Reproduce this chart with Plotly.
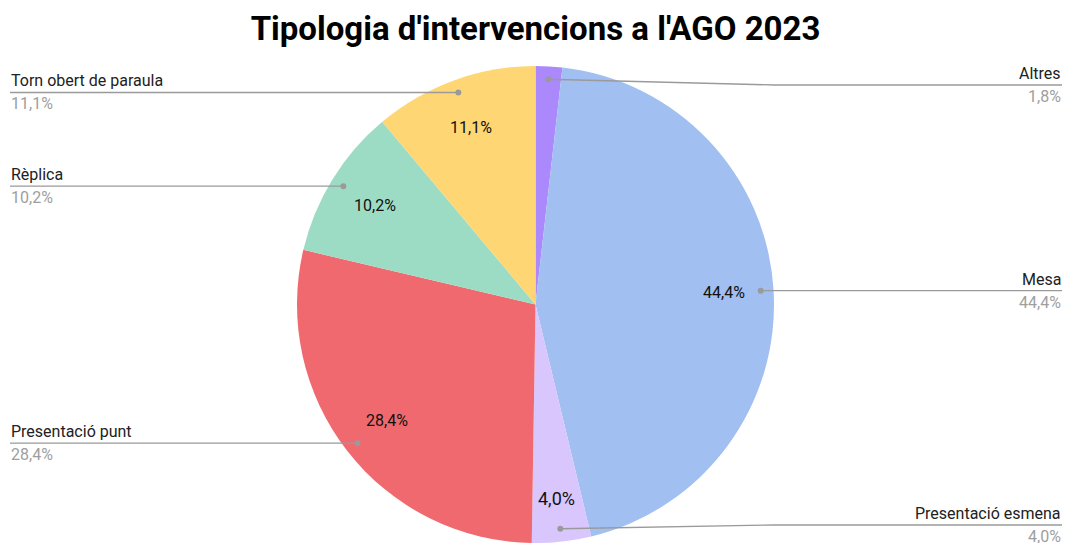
import math
import plotly.graph_objects as go

# ---- data ----
categories = ["Altres", "Mesa", "Presentació esmena", "Presentació punt", "Rèplica", "Torn obert de paraula"]
values = [1.8, 44.4, 4.0, 28.4, 10.2, 11.1]
colors = ["#ab88fc", "#a1bff0", "#d8c6fd", "#f0696e", "#9ddcc4", "#fed674"]
title_text = "Tipologia d'intervencions a l'AGO 2023"

# ---- layout geometry ----
W, H = 1066, 543
M_T, M_B, M_L, M_R = 66, 0, 0, 0
plot_h = H - M_T - M_B
CX = 535.5
CY = M_T + plot_h / 2
R = plot_h / 2
FONT = "Roboto, 'Open Sans', sans-serif"

def px_to_paper(x, y):
    return (x - M_L) / (W - M_L - M_R), (H - M_B - y) / plot_h

total = sum(values)
pcts = [v / total * 100 for v in values]
def fmt(p):
    return f"{p:.1f}".replace(".", ",") + "%"

fig = go.Figure(go.Pie(
    labels=categories, values=values, sort=False, direction="clockwise", rotation=0,
    marker=dict(colors=colors, line=dict(width=0)),
    textinfo="none", hoverinfo="label+percent", showlegend=False,
    domain=dict(x=[(CX - 300) / W, (CX + 300) / W], y=[0, 1]),
))

annotations = []
shapes = []
cum = 0.0
for name, p in zip(categories, pcts):
    mid = (cum + p / 2) / 100 * 2 * math.pi
    cum += p
    s, c = math.sin(mid), math.cos(mid)
    # inside percentage label (very thin slices get none)
    if p >= 3:
        small = p < 5
        r_in = R * (0.82 if small else 0.79)
        ix, iy = CX + s * r_in, CY - c * r_in
        ax, ay = px_to_paper(ix, iy)
        annotations.append(dict(x=ax, y=ay, xref="paper", yref="paper", text=fmt(p), showarrow=False,
                                xanchor="center", yanchor="middle",
                                font=dict(family=FONT, size=18 if small else 16, color="#111111")))
    # leader line
    dx, dy = CX + s * R * 0.946, CY - c * R * 0.946
    ly = min(max(dy, 85), 525)
    right = s > 0
    kx = CX + R if right else CX - R
    ex = W - 4 if right else 10
    p0 = px_to_paper(dx, dy)
    p1 = px_to_paper(kx, ly)
    p2 = px_to_paper(ex, ly)
    shapes.append(dict(type="path", xref="paper", yref="paper",
                       path=f"M {p0[0]},{p0[1]} L {p1[0]},{p1[1]} L {p2[0]},{p2[1]}",
                       line=dict(color="#9a9a9a", width=1.3)))
    c0 = px_to_paper(dx - 3, dy - 3)
    c1 = px_to_paper(dx + 3, dy + 3)
    shapes.append(dict(type="circle", xref="paper", yref="paper",
                       x0=c0[0], y0=c1[1], x1=c1[0], y1=c0[1],
                       fillcolor="#9a9a9a", line=dict(width=0)))
    tx = px_to_paper(ex, ly)
    anchor = "right" if right else "left"
    annotations.append(dict(x=tx[0], y=px_to_paper(0, ly - 1)[1], xref="paper", yref="paper", text=name,
                            showarrow=False, xanchor=anchor, yanchor="bottom", align=anchor,
                            font=dict(family=FONT, size=16, color="#212121"), borderpad=0))
    annotations.append(dict(x=tx[0], y=px_to_paper(0, ly + 1)[1], xref="paper", yref="paper", text=fmt(p),
                            showarrow=False, xanchor=anchor, yanchor="top", align=anchor,
                            font=dict(family=FONT, size=16, color="#9e9e9e"), borderpad=0))

fig.update_layout(
    width=W, height=H, autosize=False,
    margin=dict(l=M_L, r=M_R, t=M_T, b=M_B),
    paper_bgcolor="white", plot_bgcolor="white",
    title=dict(text="<b>" + title_text + "</b>", x=CX / W, xanchor="center",
               y=1 - 28 / H, yanchor="middle", yref="container",
               font=dict(family=FONT, size=33, color="#000000")),
    annotations=annotations, shapes=shapes,
)
fig.write_html("out.html", config={"displayModeBar": False},
               post_script="document.body.style.margin='0';document.body.style.overflow='hidden';")
